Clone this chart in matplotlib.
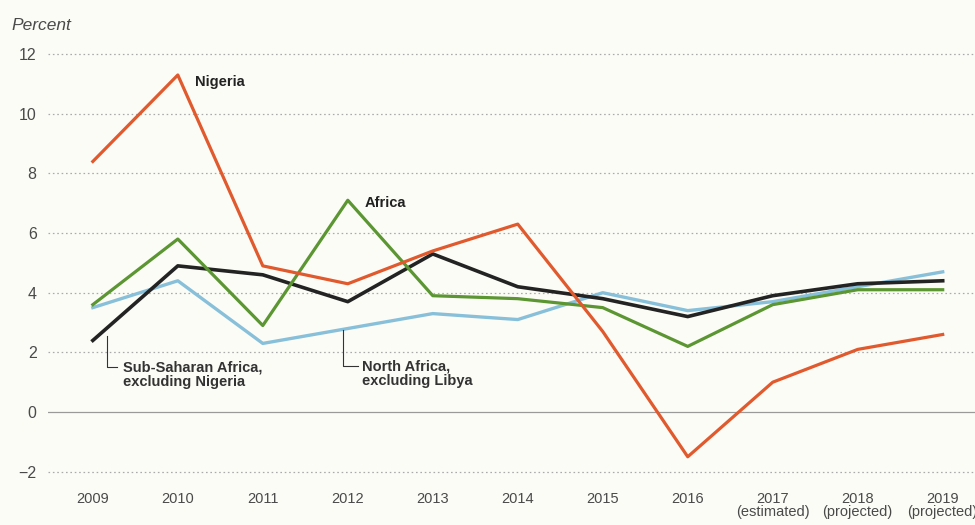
import matplotlib.pyplot as plt

# GDP growth, percent
years = ["2009", "2010", "2011", "2012", "2013", "2014", "2015", "2016",
         "2017\n(estimated)", "2018\n(projected)", "2019\n(projected)"]
nigeria = [8.4, 11.3, 4.9, 4.3, 5.4, 6.3, 2.7, -1.5, 1.0, 2.1, 2.6]
africa = [3.6, 5.8, 2.9, 7.1, 3.9, 3.8, 3.5, 2.2, 3.6, 4.1, 4.1]
ssa_ex_nigeria = [2.4, 4.9, 4.6, 3.7, 5.3, 4.2, 3.8, 3.2, 3.9, 4.3, 4.4]
north_ex_libya = [3.5, 4.4, 2.3, 2.8, 3.3, 3.1, 4.0, 3.4, 3.7, 4.2, 4.7]
y_ticks = [-2, 0, 2, 4, 6, 8, 10, 12]

BG = "#fcfcf7"
ORANGE = "#e05a2e"
GREEN = "#5b9632"
BLACK = "#232323"
BLUE = "#88c0da"
TXT = "#4a4a4a"

plt.rcParams["font.family"] = ["Liberation Sans", "DejaVu Sans"]

fig = plt.figure(figsize=(9.75, 5.25), dpi=100)
fig.patch.set_facecolor(BG)
ax = fig.add_axes([0.049, 0.076, 0.951, 0.838])
ax.set_facecolor(BG)

x = list(range(len(years)))
# draw order: blue under black under green under orange
ax.plot(x, north_ex_libya, color=BLUE, lw=2.4, zorder=3)
ax.plot(x, ssa_ex_nigeria, color=BLACK, lw=2.6, zorder=4)
ax.plot(x, africa, color=GREEN, lw=2.3, zorder=5)
ax.plot(x, nigeria, color=ORANGE, lw=2.3, zorder=6)

ax.set_xlim(-0.53, 10.38)
ax.set_ylim(-2.45, 12.3)
ax.set_yticks(y_ticks)
ax.set_yticklabels([str(v) if v >= 0 else "\u22122" for v in y_ticks])
ax.set_xticks(x)
ax.set_xticklabels(years, linespacing=0.95)
ax.tick_params(axis="both", length=0, labelsize=10.5, colors=TXT)
ax.tick_params(axis="y", pad=8, labelsize=11.5)
ax.tick_params(axis="x", pad=5)
for sp in ax.spines.values():
    sp.set_visible(False)

for v in y_ticks:
    if v == 0:
        ax.axhline(v, color="#9a9a9a", lw=0.9, zorder=1)
    else:
        ax.axhline(v, color="#aaaaaa", lw=0.9, ls=(0, (1.3, 2.2)), zorder=1)

fig.text(0.012, 0.952, "Percent", fontsize=12.5, style="italic", color=TXT,
         ha="left", va="center")

# series labels
ax.text(1.2, 11.05, "Nigeria", fontsize=10.5, fontweight="bold", color="#222222",
        ha="left", va="center")
ax.text(3.2, 7.0, "Africa", fontsize=10.5, fontweight="bold", color="#222222",
        ha="left", va="center")

# leader lines for the two sub-regions
ax.plot([0.165, 0.165, 0.29], [2.55, 1.5, 1.5], color="#333333", lw=0.8, zorder=7)
ax.text(0.35, 1.25, "Sub-Saharan Africa,\nexcluding Nigeria", fontsize=10.5, fontweight="bold",
        color="#333333", ha="left", va="center", linespacing=1.05)
ax.plot([2.94, 2.94, 3.12], [north_ex_libya[3] - 0.05, 1.55, 1.55], color="#333333", lw=0.8, zorder=7)
ax.text(3.165, 1.28, "North Africa,\nexcluding Libya", fontsize=10.5, fontweight="bold",
        color="#333333", ha="left", va="center", linespacing=1.05)

fig.savefig("out.png", dpi=100, facecolor=BG)
